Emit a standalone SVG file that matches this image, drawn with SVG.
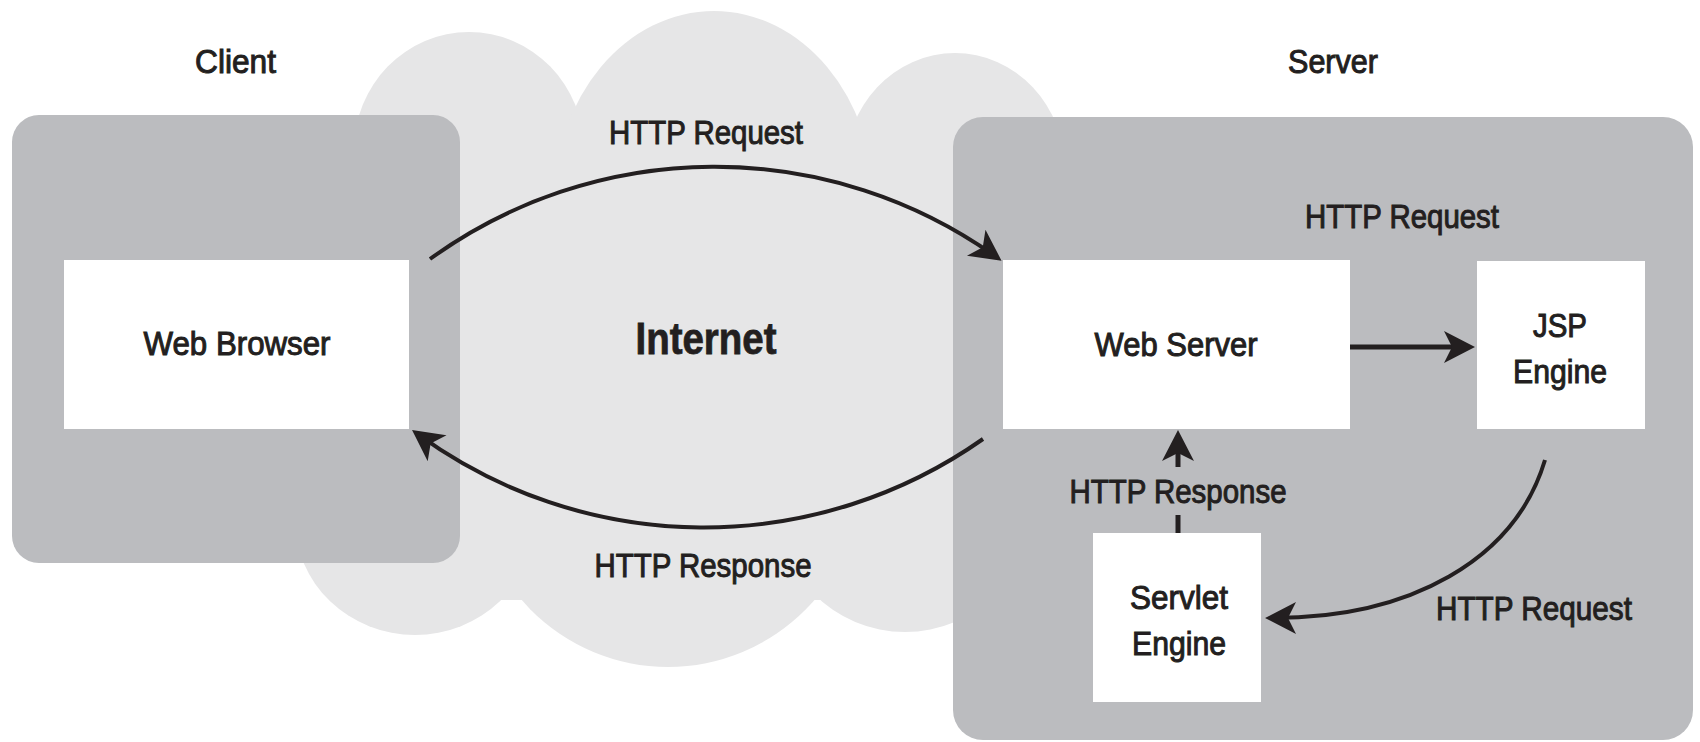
<svg xmlns="http://www.w3.org/2000/svg" width="1700" height="742" viewBox="0 0 1700 742">
<defs>
<style>
.lbl{font-family:"Liberation Sans",Arial,sans-serif;font-size:33px;fill:#231f20;stroke:#231f20;stroke-width:1px;text-anchor:middle}
.big{font-family:"Liberation Sans",Arial,sans-serif;font-size:45px;font-weight:bold;fill:#231f20;stroke:#231f20;stroke-width:0.8px;text-anchor:middle}
.panel{fill:#bbbcbf}
.node{fill:#ffffff}
.cloud{fill:#e6e6e7}
.conn{fill:none;stroke:#231f20;stroke-width:4}
.thick{fill:none;stroke:#231f20;stroke-width:5}
</style>
<marker id="ah" markerUnits="userSpaceOnUse" markerWidth="40" markerHeight="40" refX="0" refY="0" orient="auto" overflow="visible">
<path d="M8,0 L-23,-16 L-15,0 L-23,16 Z" fill="#231f20"/>
</marker>
</defs>
<rect width="1700" height="742" fill="#ffffff"/>
<g id="cloud" class="cloud">
<ellipse cx="469" cy="150" rx="115" ry="118"/>
<ellipse cx="714" cy="202" rx="160" ry="191"/>
<ellipse cx="955" cy="170" rx="110" ry="117"/>
<ellipse cx="415" cy="520" rx="120" ry="115"/>
<ellipse cx="668" cy="470" rx="195" ry="197"/>
<ellipse cx="905" cy="500" rx="130" ry="132"/>
<polygon points="300,120 1055,120 1055,600 500,600 300,560"/>
</g>
<g id="client">
<rect class="panel" x="12" y="115" width="448" height="448" rx="27"/>
<text class="lbl" x="235.5" y="73" textLength="81" lengthAdjust="spacingAndGlyphs">Client</text>
</g>
<g id="server">
<rect class="panel" x="953" y="117" width="740" height="623" rx="30"/>
<text class="lbl" x="1333" y="73" textLength="90" lengthAdjust="spacingAndGlyphs">Server</text>
</g>
<g id="internet">
<text class="big" x="706" y="354" textLength="141" lengthAdjust="spacingAndGlyphs">Internet</text>
</g>
<g id="web-browser">
<rect class="node" x="64" y="260" width="345" height="169"/>
<text class="lbl" x="237" y="355" textLength="187" lengthAdjust="spacingAndGlyphs">Web Browser</text>
</g>
<g id="web-server">
<rect class="node" x="1003" y="260" width="347" height="169"/>
<text class="lbl" x="1176" y="356" textLength="163" lengthAdjust="spacingAndGlyphs">Web Server</text>
</g>
<g id="jsp-engine">
<rect class="node" x="1477" y="261" width="168" height="168"/>
<text class="lbl" x="1560" y="337" textLength="54" lengthAdjust="spacingAndGlyphs">JSP</text>
<text class="lbl" x="1560" y="383" textLength="94" lengthAdjust="spacingAndGlyphs">Engine</text>
</g>
<g id="servlet-engine">
<rect class="node" x="1093" y="533" width="168" height="169"/>
<text class="lbl" x="1179" y="609" textLength="98" lengthAdjust="spacingAndGlyphs">Servlet</text>
<text class="lbl" x="1179" y="655" textLength="94" lengthAdjust="spacingAndGlyphs">Engine</text>
</g>
<g id="connectors">
<path class="conn" d="M430,259 A485,485 0 0 1 995,256" marker-end="url(#ah)"/>
<path class="conn" d="M983,439 A485,485 0 0 1 418.5,434.7" marker-end="url(#ah)"/>
<path class="thick" d="M1350,347 L1467,347" marker-end="url(#ah)"/>
<path class="conn" d="M1545,460 C1515,560 1410,618 1273,618" marker-end="url(#ah)"/>
<path class="thick" d="M1178,533 L1178,515"/>
<path class="thick" d="M1178,467 L1178,438" marker-end="url(#ah)"/>
<text class="lbl" x="706" y="144" textLength="194" lengthAdjust="spacingAndGlyphs">HTTP Request</text>
<text class="lbl" x="703" y="577" textLength="217" lengthAdjust="spacingAndGlyphs">HTTP Response</text>
<text class="lbl" x="1402" y="228" textLength="194" lengthAdjust="spacingAndGlyphs">HTTP Request</text>
<text class="lbl" x="1178" y="503" textLength="217" lengthAdjust="spacingAndGlyphs">HTTP Response</text>
<text class="lbl" x="1534" y="620" textLength="196" lengthAdjust="spacingAndGlyphs">HTTP Request</text>
</g>
</svg>
